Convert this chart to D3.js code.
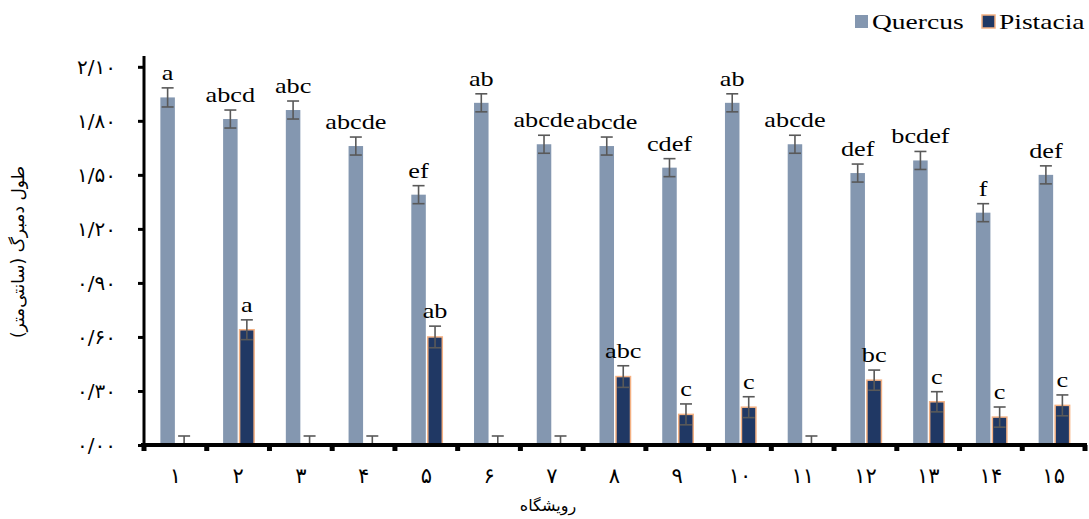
<!DOCTYPE html>
<html>
<head>
<meta charset="utf-8">
<script src="https://cdn.jsdelivr.net/npm/d3@7"></script>
<style>
  body { margin: 0; background: #fff; }
  svg { display: block; }
</style>
</head>
<body>
<svg width="1089" height="519"></svg>
<script>
// data
const categories = ["۱", "۲", "۳", "۴", "۵", "۶", "۷", "۸", "۹", "۱۰", "۱۱", "۱۲", "۱۳", "۱۴", "۱۵"];
const series = ["Quercus", "Pistacia"];
const quercus = [1.93, 1.81, 1.86, 1.66, 1.39, 1.90, 1.67, 1.66, 1.54, 1.90, 1.67, 1.51, 1.58, 1.29, 1.50];
const quercusErr = [0.053, 0.05, 0.05, 0.05, 0.05, 0.05, 0.05, 0.05, 0.05, 0.05, 0.05, 0.05, 0.05, 0.05, 0.05];
const pistacia = [0, 0.64, 0, 0, 0.60, 0, 0, 0.38, 0.17, 0.21, 0, 0.36, 0.24, 0.155, 0.22];
const pistaciaErr = [0.05, 0.055, 0.05, 0.05, 0.06, 0.05, 0.05, 0.06, 0.058, 0.058, 0.05, 0.056, 0.056, 0.056, 0.058];
const quercusLetters = ["a", "abcd", "abc", "abcde", "ef", "ab", "abcde", "abcde", "cdef", "ab", "abcde", "def", "bcdef", "f", "def"];
const pistaciaLetters = ["", "a", "", "", "ab", "", "", "abc", "c", "c", "", "bc", "c", "c", "c"];
const yTicks = [0, 0.3, 0.6, 0.9, 1.2, 1.5, 1.8, 2.1];
const yTickLabels = ["۰/۰۰", "۰/۳۰", "۰/۶۰", "۰/۹۰", "۱/۲۰", "۱/۵۰", "۱/۸۰", "۲/۱۰"];
const yTitle = "طول دمبرگ (سانتی‌متر)";
const xTitle = "رویشگاه";

const colors = { Quercus: "#8497b0", Pistacia: "#203864" };
const serif = "'Liberation Serif', 'Times New Roman', serif";
const persian = "'DejaVu Sans', sans-serif";
const stretch = 1.25; // the original text is drawn a bit wide

const svg = d3.select("svg");
const plot = { left: 144, right: 1085, top: 56, bottom: 445 };

const x = d3.scaleBand().domain(categories).range([plot.left, plot.right]);
const x1 = d3.scaleBand().domain(series).range([0, 31]).paddingInner(0.12);
const y = d3.scaleLinear().domain([0, 2.16]).range([plot.bottom, plot.top]);

const groupX = c => x(c) + x.bandwidth() / 2 - 15;

function wideText(g, tx, ty, str, size, anchor) {
  return g.append("text")
    .attr("transform", "translate(" + tx + "," + ty + ") scale(" + stretch + ",1)")
    .attr("text-anchor", anchor || "middle")
    .style("font-family", serif)
    .style("font-size", size + "px")
    .text(str);
}

// bars
const rows = categories.map((c, i) => ({
  c: c,
  vals: [
    { s: "Quercus", v: quercus[i], e: quercusErr[i], t: quercusLetters[i] },
    { s: "Pistacia", v: pistacia[i], e: pistaciaErr[i], t: pistaciaLetters[i] }
  ]
}));

const groups = svg.append("g").selectAll("g")
  .data(rows)
  .enter().append("g")
  .attr("transform", d => "translate(" + groupX(d.c) + ",0)");

groups.selectAll("rect")
  .data(d => d.vals.filter(v => v.v > 0))
  .enter().append("rect")
  .attr("x", d => x1(d.s))
  .attr("y", d => y(d.v))
  .attr("width", x1.bandwidth())
  .attr("height", d => y(0) - y(d.v))
  .attr("fill", d => colors[d.s])
  .attr("stroke", d => d.s == "Pistacia" ? "#f4b183" : "none")
  .attr("stroke-width", 1.5);

// error bars
const err = groups.selectAll("g.err")
  .data(d => d.vals)
  .enter().append("g")
  .attr("class", "err")
  .attr("stroke", "#595959")
  .attr("stroke-width", 1.6);

err.append("line")
  .attr("x1", d => x1(d.s) + x1.bandwidth() / 2)
  .attr("x2", d => x1(d.s) + x1.bandwidth() / 2)
  .attr("y1", d => y(Math.max(0, d.v - d.e)))
  .attr("y2", d => y(d.v + d.e));
err.append("line")
  .attr("x1", d => x1(d.s) + x1.bandwidth() / 2 - 6)
  .attr("x2", d => x1(d.s) + x1.bandwidth() / 2 + 6)
  .attr("y1", d => y(d.v + d.e))
  .attr("y2", d => y(d.v + d.e));
err.filter(d => d.v - d.e > 0).append("line")
  .attr("x1", d => x1(d.s) + x1.bandwidth() / 2 - 6)
  .attr("x2", d => x1(d.s) + x1.bandwidth() / 2 + 6)
  .attr("y1", d => y(d.v - d.e))
  .attr("y2", d => y(d.v - d.e));

// letters above bars
groups.each(function (d) {
  const g = d3.select(this);
  d.vals.forEach(v => {
    if (!v.t) return;
    wideText(g, x1(v.s) + x1.bandwidth() / 2, y(v.v + v.e) - 8, v.t, 21);
  });
});

// y axis
const yAxis = d3.axisLeft(y)
  .tickValues(yTicks)
  .tickSize(6)
  .tickPadding(22)
  .tickFormat((d, i) => yTickLabels[i]);

const yg = svg.append("g")
  .attr("transform", "translate(" + plot.left + ",0)")
  .call(yAxis);
yg.select(".domain").attr("stroke", "#000").attr("stroke-width", 3).attr("d", "M0," + plot.top + "V" + (plot.bottom + 4));
yg.selectAll(".tick line").attr("stroke", "#000").attr("stroke-width", 3);
yg.selectAll(".tick text")
  .style("font-family", persian)
  .style("font-size", "20px")
  .attr("fill", "#000");

// x axis
const xAxis = d3.axisBottom(x).tickSize(0).tickPadding(23);
const xg = svg.append("g")
  .attr("transform", "translate(0," + plot.bottom + ")")
  .call(xAxis);
xg.select(".domain").attr("stroke", "#000").attr("stroke-width", 4).attr("d", "M" + (plot.left - 3) + ",0H" + (plot.right + 2));
xg.selectAll(".tick text")
  .style("font-family", persian)
  .style("font-size", "21px")
  .attr("fill", "#000");

// square tick marks on the category boundaries
xg.selectAll("rect.bound")
  .data(categories.concat(["end"]))
  .enter().append("rect")
  .attr("class", "bound")
  .attr("x", (d, i) => (i < categories.length ? x(d) : plot.right) - 2.5)
  .attr("y", 0)
  .attr("width", 5)
  .attr("height", 6)
  .attr("fill", "#000");

// axis titles
svg.append("text")
  .attr("transform", "translate(24," + 252 + ") rotate(-90)")
  .attr("text-anchor", "middle")
  .attr("direction", "rtl")
  .style("font-family", persian)
  .style("font-size", "17px")
  .text(yTitle);

svg.append("text")
  .attr("x", 548)
  .attr("y", 511)
  .attr("text-anchor", "middle")
  .attr("direction", "rtl")
  .style("font-family", persian)
  .style("font-size", "16px")
  .text(xTitle);

// legend
const legend = svg.append("g");
const legendX = [855, 982];
series.forEach((s, i) => {
  legend.append("rect")
    .attr("x", legendX[i])
    .attr("y", 15)
    .attr("width", 13)
    .attr("height", 13)
    .attr("fill", colors[s])
    .attr("stroke", s == "Pistacia" ? "#f4b183" : "none")
    .attr("stroke-width", 1.5);
  wideText(legend, legendX[i] + 17, 29, s, 22, "start");
});
</script>
</body>
</html>
